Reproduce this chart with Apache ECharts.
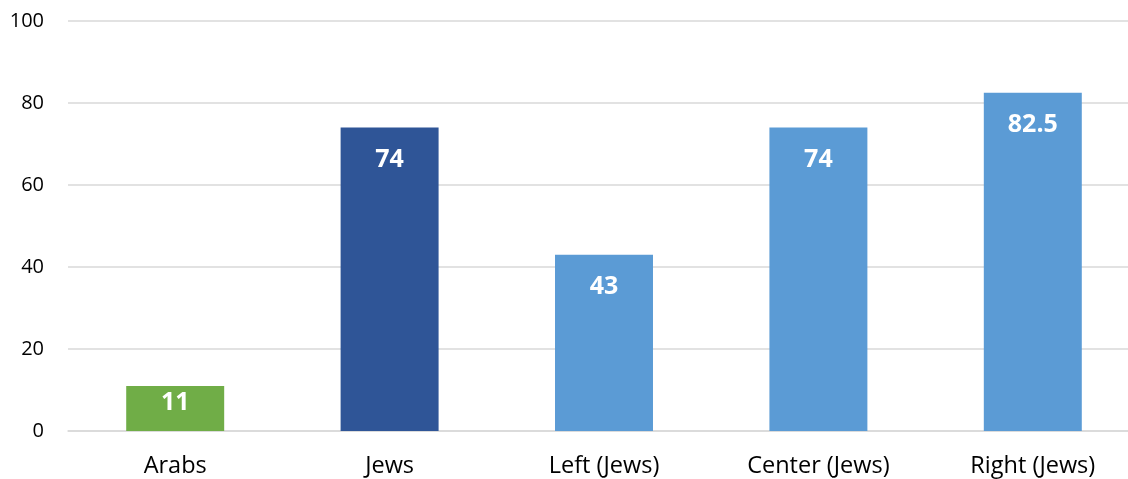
<!DOCTYPE html>
<html><head><meta charset="utf-8">
<script src="https://cdn.jsdelivr.net/npm/echarts@6/dist/echarts.min.js"></script>
<style>html,body{margin:0;padding:0;overflow:hidden;background:#fff}#c{width:1140px;height:479px}</style>
</head><body><div id="c"></div>
<script>
const categories = ["Arabs", "Jews", "Left (Jews)", "Center (Jews)", "Right (Jews)"];
const values = [11, 74, 43, 74, 82.5];
const barColors = ["#70AD47", "#2F5597", "#5B9BD5", "#5B9BD5", "#5B9BD5"];
const yTicks = { min: 0, max: 100, interval: 20 };

const chart = echarts.init(document.getElementById('c'), null, { renderer: 'canvas' });
chart.setOption({
  animation: false,
  grid: { left: 68, right: 0, top: 21, bottom: 48, containLabel: false },
  xAxis: {
    type: 'category', data: categories,
    axisLine: { show: true, lineStyle: { color: '#D9D9D9', width: 1.5 } },
    axisTick: { show: false },
    axisLabel: { color: '#000', fontSize: 23.5, fontFamily: 'Open Sans', margin: 23 }
  },
  yAxis: {
    type: 'value', min: yTicks.min, max: yTicks.max, interval: yTicks.interval,
    axisLine: { show: false }, axisTick: { show: false },
    splitLine: { lineStyle: { color: '#D9D9D9', width: 1.5 } },
    axisLabel: { color: '#000', fontSize: 20, fontFamily: 'Open Sans', margin: 24 }
  },
  series: [{
    type: 'bar', barWidth: '45.7%',
    data: values.map((v, i) => ({
      value: v, itemStyle: { color: barColors[i] },
      label: { distance: i === 0 ? 4 : 20 }
    })),
    label: { show: true, position: 'insideTop', color: '#fff', fontSize: 25, fontWeight: 'bold', fontFamily: 'Open Sans' }
  }]
});
</script></body></html>
